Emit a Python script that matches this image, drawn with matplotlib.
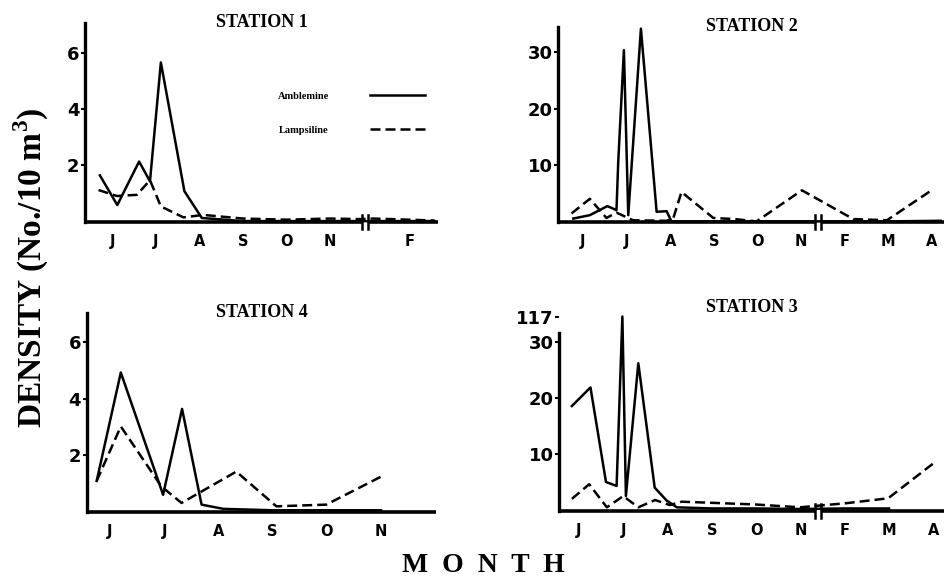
import matplotlib
matplotlib.use("Agg")
import matplotlib.pyplot as plt
import matplotlib.transforms as mtransforms

plt.rcParams['mathtext.fontset'] = 'custom'
plt.rcParams['mathtext.rm'] = 'Liberation Serif:bold'
plt.rcParams['mathtext.bf'] = 'Liberation Serif:bold'

SERIF = 'Liberation Serif'

# month labels on each panel (x in month units, J = 0)
months_long = ['J', 'J', 'A', 'S', 'O', 'N', 'F', 'M', 'A']
months_long_pos = [0, 1, 2, 3, 4, 5, 6, 7, 8]
months_s1 = ['J', 'J', 'A', 'S', 'O', 'N', 'F']
months_s1_pos = [0, 1, 2, 3, 4, 5, 6.83]
months_s4 = ['J', 'J', 'A', 'S', 'O', 'N']
months_s4_pos = [0, 1, 2, 3, 4, 5]

# Station 1
s1_amb_x = [-0.28, 0.12, 0.62, 0.87, 1.12, 1.66, 2.06, 3.0, 4.0, 5.0, 5.7, 6.0, 6.83, 7.4]
s1_amb_y = [1.65, 0.6, 2.14, 1.44, 5.65, 1.09, 0.14, 0.03, 0.03, 0.03, 0.03, 0.03, 0.03, 0.03]
s1_lam_x = [-0.31, 0.11, 0.57, 0.87, 1.12, 1.64, 2.09, 3.0, 4.0, 5.0, 5.7, 6.0, 6.83, 7.4]
s1_lam_y = [1.13, 0.92, 0.96, 1.48, 0.55, 0.16, 0.25, 0.12, 0.08, 0.12, 0.1, 0.12, 0.08, 0.05]

# Station 2
s2_amb_x = [-0.22, 0.16, 0.56, 0.77, 0.81, 0.94, 1.04, 1.33, 1.69, 1.92, 2.03, 3, 4, 5, 6, 7, 8.2]
s2_amb_y = [0.6, 1.2, 2.8, 2.1, 10.6, 30.4, 1.2, 34.2, 1.8, 1.9, 0.1, 0.1, 0.1, 0.1, 0.1, 0.1, 0.2]
s2_lam_x = [-0.26, 0.16, 0.54, 0.77, 1.15, 1.92, 2.07, 2.26, 2.99, 3.49, 3.98, 5.02, 6.2, 6.97, 8.03]
s2_lam_y = [1.5, 4.1, 0.7, 1.65, 0.3, 0.2, 0.6, 5.3, 0.7, 0.5, 0.1, 5.6, 0.5, 0.3, 5.8]

# Station 4
s4_amb_x = [-0.245, 0.2, 0.98, 1.33, 1.69, 2.09, 3, 4, 5]
s4_amb_y = [1.09, 4.93, 0.6, 3.64, 0.25, 0.1, 0.05, 0.05, 0.05]
s4_lam_x = [-0.245, 0.2, 0.95, 1.32, 2.33, 3.07, 3.99, 5.06]
s4_lam_y = [1.09, 3.02, 0.89, 0.31, 1.42, 0.19, 0.25, 1.3]

# Station 3 (axis broken above 30, peak = 117)
s3_amb_x = [-0.16, 0.26, 0.61, 0.85, 0.98, 1.06, 1.34, 1.71, 1.98, 2.21, 3, 4, 5, 6, 7]
s3_amb_y = [18.6, 21.9, 5.1, 4.4, 117, 2.6, 26.2, 4.1, 1.8, 0.6, 0.4, 0.4, 0.3, 0.4, 0.4]
s3_lam_x = [-0.16, 0.23, 0.63, 1.0, 1.34, 1.72, 2.05, 2.32, 3, 4, 4.99, 5.55, 6, 6.98, 8.0]
s3_lam_y = [2.1, 4.7, 0.6, 2.6, 0.6, 1.9, 1.0, 1.6, 1.4, 1.1, 0.6, 1.0, 1.3, 2.2, 8.4]


def squeeze(v):
    # values above 30 are drawn on the broken part of the axis
    return v if v <= 30 else 30 + (v - 30) * 4.5 / 87


fig = plt.figure(figsize=(9.45, 5.81), dpi=100)


def panel(rect, title, xlim, ylim, ticks, ticklabels, mpos, mlab, brk=None, top=None):
    ax = fig.add_axes(rect)
    ax.set_xlim(*xlim)
    ax.set_ylim(*ylim)
    for s in ['top', 'right', 'bottom']:
        ax.spines[s].set_visible(False)
    ax.spines['left'].set_linewidth(2.4)
    if top is not None:
        ax.spines['left'].set_bounds(0, top)
    ax.set_yticks(ticks)
    ax.set_yticklabels(ticklabels, fontsize=13, fontweight='bold', family='DejaVu Sans')
    ax.tick_params(axis='y', length=3, width=1.5, pad=1)
    ax.set_xticks(mpos)
    ax.set_xticklabels(mlab, fontsize=10.5, fontweight='bold', family='DejaVu Sans')
    ax.tick_params(axis='x', length=0, pad=9)
    # baseline (with break)
    tr = mtransforms.blended_transform_factory(ax.transData, ax.transAxes)
    if brk is None:
        ax.plot(xlim, [0, 0], color='black', lw=2.6, transform=tr, clip_on=False, solid_capstyle='butt')
    else:
        ax.plot([xlim[0], brk - 0.07], [0, 0], color='black', lw=2.6, transform=tr,
                clip_on=False, solid_capstyle='butt')
        ax.plot([brk + 0.07, xlim[1]], [0, 0], color='black', lw=2.6, transform=tr,
                clip_on=False, solid_capstyle='butt')
        for b in (brk - 0.07, brk + 0.07):
            ax.plot([b, b], [-0.035, 0.035], color='black', lw=1.8, transform=tr, clip_on=False)
    ax.text(0.5, 1.0, title, transform=ax.transAxes, ha='center', va='center',
            fontsize=13, fontweight='bold', family=SERIF)
    return ax


def draw(ax, ax_x, ax_y, la_x, la_y):
    ax.plot(ax_x, ax_y, color='black', lw=1.8, label='Amblemine', clip_on=False)
    ax.plot(la_x, la_y, color='black', lw=1.8, ls=(0, (4, 2)), label='Lampsiline', clip_on=False)


ax1 = panel([0.09, 0.618, 0.3735, 0.3425], 'STATION 1', (-0.62, 7.48), (0, 7.05),
            [2, 4, 6], ['2', '4', '6'], months_s1_pos, months_s1, brk=5.8)
draw(ax1, s1_amb_x, s1_amb_y, s1_lam_x, s1_lam_y)
leg = ax1.legend(loc='upper right', bbox_to_anchor=(0.962, 0.656), frameon=False,
                 markerfirst=False, handlelength=5.2, handletextpad=4.0, labelspacing=2.4,
                 borderpad=0, borderaxespad=0,
                 prop={'family': SERIF, 'weight': 'bold', 'size': 7.5})

ax2 = panel([0.5905, 0.618, 0.4095, 0.3356], 'STATION 2', (-0.57, 8.3), (0, 34.5),
            [10, 20, 30], ['10', '20', '30'], months_long_pos, months_long, brk=5.39)
draw(ax2, s2_amb_x, s2_amb_y, s2_lam_x, s2_lam_y)

ax4 = panel([0.0917, 0.1193, 0.370, 0.342], 'STATION 4', (-0.43, 6.02), (0, 7.04),
            [2, 4, 6], ['2', '4', '6'], months_s4_pos, months_s4)
draw(ax4, s4_amb_x, s4_amb_y, s4_lam_x, s4_lam_y)

ax3 = panel([0.5918, 0.121, 0.408, 0.339], 'STATION 3', (-0.445, 8.26), (0, 35),
            [10, 20, 30, squeeze(114)], ['10', '20', '30', '117'], months_long_pos, months_long,
            brk=5.4, top=31.5)
draw(ax3, s3_amb_x, [squeeze(v) for v in s3_amb_y], s3_lam_x, [squeeze(v) for v in s3_lam_y])
ax3.texts[0].set_position((0.5, 1.03))

fig.text(0.033, 0.539, 'DENSITY (No./10 m$^{3}$)', rotation=90, ha='center', va='center',
         fontsize=24, fontweight='bold', family=SERIF)
fig.text(0.511, 0.027, 'M  O  N  T  H', ha='center', va='center',
         fontsize=20, fontweight='bold', family=SERIF)

fig.savefig('out.png', dpi=100)
